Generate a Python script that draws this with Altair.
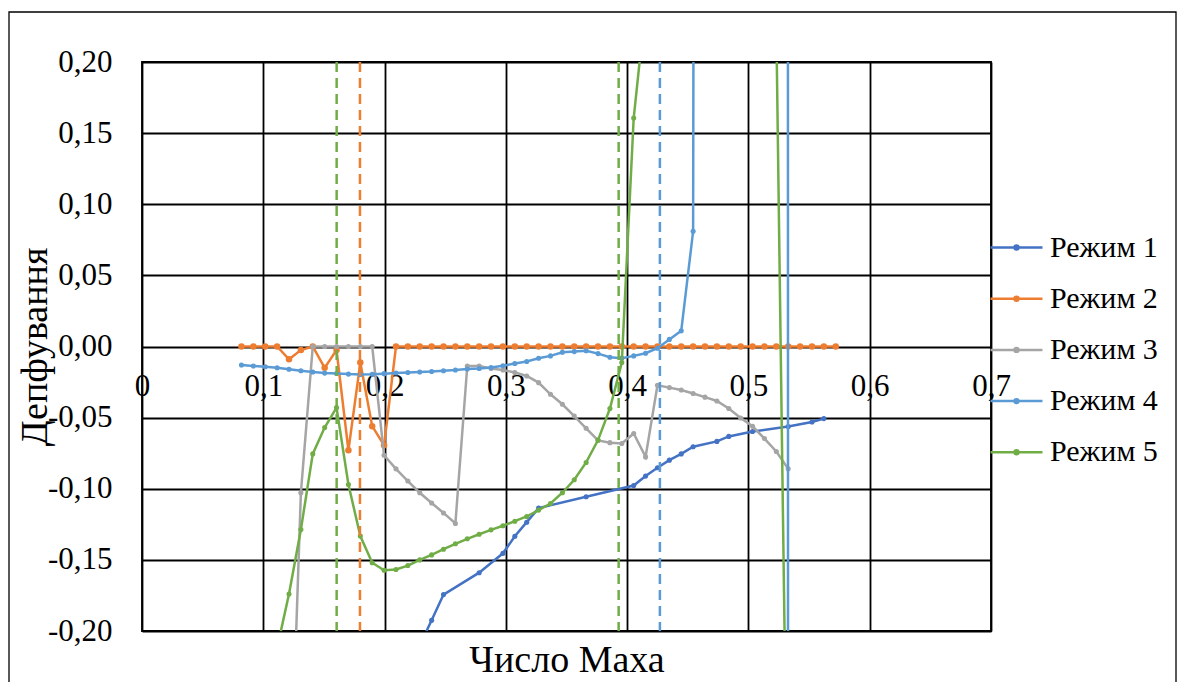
import altair as alt
import pandas as pd

SERIES = ["Режим 1", "Режим 2", "Режим 3", "Режим 4", "Режим 5"]
COLORS = ["#4472C4", "#ED7D31", "#A5A5A5", "#5B9BD5", "#70AD47"]

# Mach-number grid shared by regimes 2-5
MACH = [0.082, 0.0918, 0.1016, 0.1114, 0.1212, 0.131, 0.1408, 0.1506, 0.1604, 0.1702,
        0.18, 0.1898, 0.1996, 0.2094, 0.2192, 0.229, 0.2388, 0.2486, 0.2584, 0.2682,
        0.278, 0.2878, 0.2976, 0.3074, 0.3172, 0.327, 0.3368, 0.3466, 0.3564, 0.3662,
        0.376, 0.3858, 0.3956, 0.4054, 0.4152, 0.425, 0.4348, 0.4446, 0.4544, 0.4642,
        0.474, 0.4838, 0.4936, 0.5034, 0.5132, 0.523, 0.5328, 0.5426, 0.5524, 0.5622, 0.572]

R1_X = [0.229, 0.2388, 0.2486, 0.278, 0.2976, 0.3074, 0.3172, 0.327, 0.3662, 0.4054,
        0.4152, 0.425, 0.4348, 0.4446, 0.4544, 0.474, 0.4838, 0.5034, 0.5328, 0.5524, 0.5622]
R1_Y = [-0.21, -0.1925, -0.1744, -0.159, -0.1454, -0.1334, -0.1235, -0.1136, -0.1056, -0.0977,
        -0.0911, -0.0852, -0.0799, -0.0755, -0.0705, -0.0667, -0.0632, -0.0598, -0.0563, -0.0531, -0.0507]

R2_X = MACH
R2_Y = [0.0, 0.0, 0.0, 0.0, -0.009, -0.0025, 0.0, -0.015, -0.0025, -0.073,
        -0.0113, -0.056, -0.0695, 0.0, 0.0, 0.0, 0.0, 0.0, 0.0, 0.0,
        0.0, 0.0, 0.0, 0.0, 0.0, 0.0, 0.0, 0.0, 0.0, 0.0,
        0.0, 0.0, 0.0, 0.0, 0.0, 0.0, 0.0, 0.0, 0.0, 0.0,
        0.0, 0.0, 0.0, 0.0, 0.0, 0.0, 0.0, 0.0, 0.0, 0.0, 0.0]

R3_X = MACH[4:47]
R3_Y = [-0.35, -0.1028, 0.0, 0.0, 0.0, 0.0, 0.0, 0.0, -0.0765, -0.086,
        -0.0946, -0.1028, -0.110, -0.117, -0.1244, -0.0137, -0.0137, -0.0155, -0.0165, -0.0183,
        -0.0207, -0.0254, -0.0336, -0.0406, -0.0489, -0.0575, -0.066, -0.0676, -0.0682, -0.0612,
        -0.0776, -0.0272, -0.0289, -0.0306, -0.033, -0.0356, -0.0383, -0.0436, -0.0503, -0.0561,
        -0.0647, -0.0738, -0.086]

R4_X = MACH[0:39] + [MACH[39], MACH[45], MACH[46]]
R4_Y = [-0.013, -0.0137, -0.0142, -0.0149, -0.016, -0.0171, -0.0179, -0.0187, -0.019, -0.0194,
        -0.0196, -0.0195, -0.0191, -0.0186, -0.0183, -0.0179, -0.0176, -0.017, -0.0165, -0.0158,
        -0.0155, -0.0148, -0.0135, -0.012, -0.0105, -0.0083, -0.0066, -0.004, -0.0036, -0.003,
        -0.005, -0.0076, -0.0082, -0.0066, -0.0047, -0.0012, 0.005, 0.011, 0.081,
        5.0, 50.0, -1.0]

R5_X = MACH[3:35] + [MACH[45], MACH[46]]
R5_Y = [-0.212, -0.174, -0.1287, -0.0755, -0.057, -0.043, -0.097, -0.1333, -0.152, -0.1573,
        -0.1568, -0.154, -0.150, -0.1465, -0.1425, -0.1387, -0.1352, -0.132, -0.1289, -0.126,
        -0.1228, -0.1195, -0.115, -0.1104, -0.1028, -0.0937, -0.0815, -0.0658, -0.0436, -0.0113,
        0.1606, 0.24, 0.225, -0.39]

# dashed vertical markers
RULE_X = [0.1605, 0.1797, 0.393, 0.427]
RULE_SERIES = ["Режим 5", "Режим 2", "Режим 5", "Режим 4"]

X_TICKS = [0, 0.1, 0.2, 0.3, 0.4, 0.5, 0.6, 0.7]
Y_TICKS = [-0.2, -0.15, -0.1, -0.05, 0, 0.05, 0.1, 0.15, 0.2]

FONT = "Liberation Serif"
W, H = 849, 569

SERIES_DATA = [(SERIES[0], R1_X, R1_Y), (SERIES[1], R2_X, R2_Y), (SERIES[2], R3_X, R3_Y),
               (SERIES[3], R4_X, R4_Y), (SERIES[4], R5_X, R5_Y)]
MARKER_SIZE = {"Режим 2": 42}

scale = alt.Scale(domain=SERIES, range=COLORS)
sym_path = "M-1,0L1,0M-0.075,0A0.075,0.075,0,1,0,0.075,0A0.075,0.075,0,1,0,-0.075,0Z"
legend = alt.Legend(title=None, orient="none", legendX=847, legendY=158, padding=0,
                    symbolType=sym_path, symbolSize=2704, symbolStrokeWidth=2.5,
                    labelFont=FONT, labelFontSize=30, labelColor="black", labelOffset=6,
                    rowPadding=8.2, labelLimit=300)

labx = "datum.value == 0 ? '0' : replace(format(datum.value, '.1f'), '.', ',')"
laby = "replace(replace(format(datum.value, '.2f'), '.', ','), '\u2212', '-')"

xenc = alt.X("mach:Q", scale=alt.Scale(domain=[0, 0.7], nice=False, zero=False),
             axis=alt.Axis(values=X_TICKS, labelExpr=labx, grid=True, gridColor="black", gridWidth=1.8,
                           gridOpacity=1, domain=False, ticks=False, tickSize=0,
                           labelFont=FONT, labelFontSize=31, labelColor="black",
                           labelBaseline="alphabetic", labelPadding=48, labelFlush=False,
                           labelOverlap=False, offset=-284,
                           title="Число Маха", titleFont=FONT, titleFontSize=38,
                           titleFontWeight="normal", titleColor="black",
                           titleX=W / 2, titleY=324, titleBaseline="alphabetic", titleAlign="center"))
yenc = alt.Y("val:Q", scale=alt.Scale(domain=[-0.2, 0.2], nice=False, zero=False),
             axis=alt.Axis(values=Y_TICKS, labelExpr=laby, grid=True, gridColor="black", gridWidth=1.8,
                           gridOpacity=1, domain=False, ticks=False, tickSize=0,
                           labelFont=FONT, labelFontSize=31, labelColor="black", labelPadding=30,
                           labelFlush=False, labelOverlap=False,
                           title="Депфування", titleFont=FONT, titleFontSize=38,
                           titleFontWeight="normal", titleColor="black",
                           titleX=-96, titleY=H / 2, titleAngle=270,
                           titleBaseline="alphabetic", titleAlign="center"))

layers = []
for name, xs, ys in SERIES_DATA:
    df = pd.DataFrame({"mach": xs, "val": ys, "series": name})
    base = alt.Chart(df)
    layers.append(base.mark_line(strokeWidth=2.5, clip=True).encode(
        x=xenc, y=yenc, stroke=alt.Stroke("series:N", scale=scale, legend=legend)))
    layers.append(base.mark_circle(size=MARKER_SIZE.get(name, 26), opacity=1, clip=True).encode(
        x=xenc, y=yenc, fill=alt.Fill("series:N", scale=scale, legend=legend)))

rules = alt.Chart(pd.DataFrame({"mach": RULE_X, "series": RULE_SERIES})).mark_rule(
    strokeDash=[10, 6], strokeWidth=2.5).encode(
    x=xenc, stroke=alt.Stroke("series:N", scale=scale, legend=None))
layers.append(rules)

border = alt.Chart(pd.DataFrame({"k": [0]})).mark_rect(
    filled=False, stroke="black", strokeWidth=1.3, clip=False).encode(
    x=alt.value(-133), x2=alt.value(1034), y=alt.value(-50), y2=alt.value(660))
layers.append(border)

chart = alt.layer(*layers).properties(
    width=W, height=H, autosize="none",
    padding={"left": 142, "top": 62, "right": 192, "bottom": 51},
    background="white",
).configure_view(stroke="black", strokeWidth=1.8)

chart.save("out.html", embed_options={"renderer": "svg", "actions": False})
